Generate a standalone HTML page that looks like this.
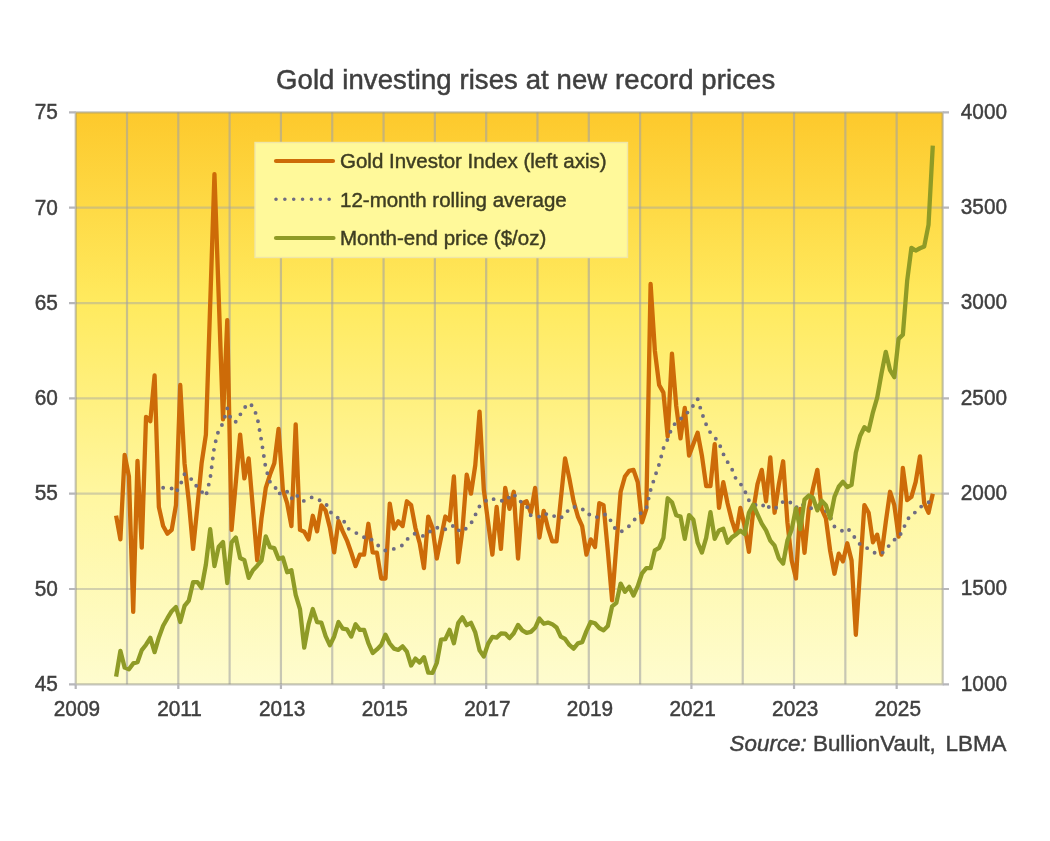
<!DOCTYPE html><html><head><meta charset="utf-8"><style>html,body{margin:0;padding:0;background:#fff;width:1050px;height:841px;overflow:hidden}svg{display:block;filter:blur(0.45px)}text{font-family:"Liberation Sans",sans-serif;fill:#3F3F3F;stroke:#3F3F3F;stroke-width:0.45px}</style></head><body><svg width="1050" height="841" viewBox="0 0 1050 841"><defs><linearGradient id="bg" x1="0" y1="0" x2="0" y2="1"><stop offset="0" stop-color="#FDC92C"/><stop offset="0.33" stop-color="#FFEA5E"/><stop offset="0.68" stop-color="#FFF7A2"/><stop offset="1" stop-color="#FEFCCE"/></linearGradient><filter id="gb" x="-1%" y="-1%" width="102%" height="102%"><feGaussianBlur stdDeviation="0.55"/></filter></defs><rect x="75.7" y="112.4" width="867.0" height="571.9" fill="url(#bg)"/><g filter="url(#gb)"><path d="M75.7 207.72H942.7M75.7 303.03H942.7M75.7 398.35H942.7M75.7 493.67H942.7M75.7 588.98H942.7" stroke="#A8A8A0" stroke-opacity="0.5" stroke-width="2.2" fill="none"/><path d="M127.01 112.4V684.3M178.32 112.4V684.3M229.63 112.4V684.3M280.94 112.4V684.3M332.25 112.4V684.3M383.56 112.4V684.3M434.87 112.4V684.3M486.18 112.4V684.3M537.49 112.4V684.3M588.80 112.4V684.3M640.11 112.4V684.3M691.42 112.4V684.3M742.73 112.4V684.3M794.04 112.4V684.3M845.35 112.4V684.3M896.66 112.4V684.3" stroke="#A4A4A4" stroke-opacity="0.6" stroke-width="2.2" fill="none"/></g><path d="M75.7 112.4V684.3H942.7V112.4Z" stroke="#8C8C80" stroke-opacity="0.5" stroke-width="2.2" fill="none"/><path d="M69 112.40H75.7M942.7 112.40H949M69 207.72H75.7M942.7 207.72H949M69 303.03H75.7M942.7 303.03H949M69 398.35H75.7M942.7 398.35H949M69 493.67H75.7M942.7 493.67H949M69 588.98H75.7M942.7 588.98H949M69 684.30H75.7M942.7 684.30H949M75.70 684.3V689M178.32 684.3V689M280.94 684.3V689M383.56 684.3V689M486.18 684.3V689M588.80 684.3V689M691.42 684.3V689M794.04 684.3V689M896.66 684.3V689" stroke="#B6B6BA" stroke-width="2.2" fill="none"/><text transform="translate(57.80 119.20) scale(1 1.1)" font-size="20.8" text-anchor="end">75</text><text transform="translate(57.80 214.52) scale(1 1.1)" font-size="20.8" text-anchor="end">70</text><text transform="translate(57.80 309.83) scale(1 1.1)" font-size="20.8" text-anchor="end">65</text><text transform="translate(57.80 405.15) scale(1 1.1)" font-size="20.8" text-anchor="end">60</text><text transform="translate(57.80 500.47) scale(1 1.1)" font-size="20.8" text-anchor="end">55</text><text transform="translate(57.80 595.78) scale(1 1.1)" font-size="20.8" text-anchor="end">50</text><text transform="translate(57.80 691.10) scale(1 1.1)" font-size="20.8" text-anchor="end">45</text><text transform="translate(960.80 118.60) scale(1 1.1)" font-size="20.8" text-anchor="start">4000</text><text transform="translate(960.80 213.92) scale(1 1.1)" font-size="20.8" text-anchor="start">3500</text><text transform="translate(960.80 309.23) scale(1 1.1)" font-size="20.8" text-anchor="start">3000</text><text transform="translate(960.80 404.55) scale(1 1.1)" font-size="20.8" text-anchor="start">2500</text><text transform="translate(960.80 499.87) scale(1 1.1)" font-size="20.8" text-anchor="start">2000</text><text transform="translate(960.80 595.18) scale(1 1.1)" font-size="20.8" text-anchor="start">1500</text><text transform="translate(960.80 690.50) scale(1 1.1)" font-size="20.8" text-anchor="start">1000</text><text transform="translate(76.90 715.90) scale(1 1.1)" font-size="20.8" text-anchor="middle">2009</text><text transform="translate(179.52 715.90) scale(1 1.1)" font-size="20.8" text-anchor="middle">2011</text><text transform="translate(282.14 715.90) scale(1 1.1)" font-size="20.8" text-anchor="middle">2013</text><text transform="translate(384.76 715.90) scale(1 1.1)" font-size="20.8" text-anchor="middle">2015</text><text transform="translate(487.38 715.90) scale(1 1.1)" font-size="20.8" text-anchor="middle">2017</text><text transform="translate(590.00 715.90) scale(1 1.1)" font-size="20.8" text-anchor="middle">2019</text><text transform="translate(692.62 715.90) scale(1 1.1)" font-size="20.8" text-anchor="middle">2021</text><text transform="translate(795.24 715.90) scale(1 1.1)" font-size="20.8" text-anchor="middle">2023</text><text transform="translate(897.86 715.90) scale(1 1.1)" font-size="20.8" text-anchor="middle">2025</text><text x="276" y="89" font-size="27.5" letter-spacing="0.1" style="stroke-width:0.5px">Gold investing rises at new record prices</text><text x="1006.5" y="750.5" font-size="22.4" text-anchor="end"><tspan font-style="italic">Source:</tspan> BullionVault,<tspan dx="3.5"> LBMA</tspan></text><path d="M116.11 515.59L120.38 539.42L124.66 454.97L128.93 476.32L133.21 611.86L137.49 460.88L141.76 547.62L146.04 416.84L150.31 421.23L154.59 375.47L158.86 507.01L163.14 526.07L167.42 533.70L171.69 529.89L175.97 505.10L180.24 385.01L184.52 463.17L188.80 501.29L193.07 548.95L197.35 507.01L201.62 463.17L205.90 434.57L210.17 304.94L214.45 174.17L218.73 297.31L223.00 419.32L227.28 320.19L231.55 529.89L235.83 482.23L240.11 434.57L244.38 478.42L248.66 458.40L252.93 508.92L257.21 560.39L261.48 518.45L265.76 487.95L270.04 474.60L274.31 463.17L278.59 428.85L282.86 489.85L287.14 503.20L291.42 526.07L295.69 424.28L299.97 529.89L304.24 531.79L308.52 539.42L312.79 515.78L317.07 531.41L321.35 505.30L325.62 510.63L329.90 527.60L334.17 552.38L338.45 520.93L342.73 531.41L347.00 540.56L351.28 552.76L355.55 566.11L359.83 554.67L364.10 554.67L368.38 523.79L372.66 552.38L376.93 552.76L381.21 578.50L385.48 578.50L389.76 503.58L394.04 528.55L398.31 521.31L402.59 526.07L406.86 501.29L411.14 505.10L415.41 527.98L419.69 543.23L423.97 568.01L428.24 516.54L432.52 527.98L436.79 558.48L441.07 537.51L445.35 516.54L449.62 520.36L453.90 476.51L458.17 562.29L462.45 529.89L466.72 474.60L471.00 493.67L475.28 465.07L479.55 411.69L483.83 489.85L488.10 522.26L492.38 554.67L496.66 507.01L500.93 548.95L505.21 487.95L509.48 508.92L513.76 491.76L518.03 558.48L522.31 503.20L526.59 501.29L530.86 512.73L535.14 487.95L539.41 537.51L543.69 510.82L547.97 527.98L552.24 541.32L556.52 541.32L560.79 499.39L565.07 458.40L569.34 478.42L573.62 501.29L577.90 516.54L582.17 526.07L586.45 554.67L590.72 539.42L595.00 547.04L599.28 503.20L603.55 505.10L607.83 550.86L612.10 600.42L616.38 545.14L620.65 491.76L624.93 476.51L629.21 470.79L633.48 469.84L637.76 482.23L642.03 522.26L646.31 508.92L650.59 283.97L654.86 350.69L659.14 385.01L663.41 392.63L667.69 436.48L671.96 353.55L676.24 405.98L680.52 438.38L684.79 407.88L689.07 455.54L693.34 444.10L697.62 432.66L701.90 455.54L706.17 486.04L710.45 486.04L714.72 444.10L719.00 507.96L723.27 482.23L727.55 503.20L731.83 520.36L736.10 533.70L740.38 507.96L744.65 526.07L748.93 551.81L753.21 510.82L757.48 484.13L761.76 469.84L766.03 501.29L770.31 457.45L774.58 512.73L778.86 484.13L783.14 461.26L787.41 522.26L791.69 560.39L795.96 578.50L800.24 508.92L804.52 552.76L808.79 508.92L813.07 487.95L817.34 469.84L821.62 508.92L825.89 518.45L830.17 550.86L834.45 573.73L838.72 553.72L843.00 561.34L847.27 543.23L851.55 560.39L855.83 634.74L860.10 569.92L864.38 505.10L868.65 512.73L872.93 542.28L877.20 534.65L881.48 554.67L885.76 522.26L890.03 491.76L894.31 505.10L898.58 536.56L902.86 467.93L907.14 500.15L911.41 496.91L915.69 481.85L919.96 456.30L924.24 503.20L928.51 512.73L932.79 493.67" stroke="#CD6B08" stroke-width="4.3" fill="none" stroke-linejoin="round"/><path d="M163.14 487.78L167.42 489.28L171.69 488.48L175.97 492.66L180.24 485.05L184.52 474.05L188.80 478.40L193.07 479.64L197.35 487.93L201.62 491.59L205.90 496.26L210.17 478.68L214.45 445.91L218.73 429.77L223.00 423.44L227.28 408.36L231.55 421.09L235.83 421.72L240.11 414.82L244.38 407.92L248.66 403.12L252.93 406.39L257.21 417.05L261.48 440.88L265.76 468.22L270.04 482.00L274.31 485.36L278.59 494.56L282.86 490.41L287.14 491.65L291.42 498.68L295.69 493.61L299.97 499.92L304.24 500.99L308.52 498.18L312.79 497.10L317.07 499.77L321.35 500.70L325.62 503.05L329.90 511.26L334.17 516.49L338.45 517.95L342.73 518.39L347.00 528.10L351.28 530.00L355.55 532.86L359.83 534.14L364.10 537.36L368.38 536.73L372.66 540.66L376.93 544.17L381.21 548.42L385.48 550.59L389.76 549.14L394.04 548.91L398.31 547.29L402.59 545.08L406.86 539.67L411.14 535.55L415.41 533.32L419.69 534.94L423.97 536.24L428.24 533.22L432.52 529.01L436.79 527.35L441.07 530.17L445.35 529.18L449.62 529.09L453.90 524.97L458.17 530.04L462.45 532.12L466.72 527.66L471.00 523.54L475.28 514.96L479.55 506.21L483.83 503.05L488.10 498.41L492.38 499.46L496.66 498.41L500.93 500.62L505.21 501.46L509.48 496.85L513.76 493.53L518.03 500.74L522.31 502.11L526.59 505.83L530.86 515.59L535.14 515.44L539.41 516.70L543.69 513.05L547.97 514.79L552.24 514.16L556.52 518.60L560.79 517.82L565.07 515.04L569.34 508.36L573.62 506.76L577.90 507.79L582.17 508.75L586.45 514.26L590.72 514.64L595.00 517.88L599.28 516.09L603.55 514.24L607.83 515.04L612.10 523.44L616.38 530.69L620.65 531.79L624.93 529.73L629.21 525.92L633.48 521.23L637.76 515.19L642.03 512.25L646.31 508.54L650.59 490.16L654.86 476.83L659.14 464.27L663.41 448.31L667.69 439.26L671.96 427.75L676.24 421.86L680.52 419.17L684.79 414.00L689.07 411.77L693.34 405.27L697.62 398.90L701.90 413.20L706.17 424.49L710.45 432.89L714.72 437.20L719.00 443.15L723.27 453.88L727.55 461.96L731.83 468.81L736.10 479.29L740.38 483.66L744.65 490.48L748.93 500.42L753.21 505.03L757.48 504.86L761.76 503.52L766.03 509.62L770.31 505.64L774.58 508.31L778.86 506.59L783.14 501.52L787.41 500.42L791.69 503.52L795.96 507.89L800.24 503.06L804.52 506.04L808.79 507.56L813.07 508.90L817.34 506.15L821.62 510.31L825.89 510.98L830.17 516.71L834.45 526.46L838.72 529.72L843.00 531.16L847.27 528.21L851.55 532.52L855.83 539.34L860.10 544.43L864.38 545.86L868.65 549.43L872.93 552.21L877.20 553.56L881.48 553.87L885.76 549.58L890.03 544.43L894.31 539.74L898.58 537.89L902.86 529.75L907.14 520.26L911.41 514.18L915.69 512.23L919.96 507.53L924.24 504.28L928.51 502.45L932.79 497.36" stroke="#6F6C82" stroke-width="3.9" fill="none" stroke-dasharray="0 8.8" stroke-linecap="round"/><path d="M116.11 676.67L120.38 650.80L124.66 667.62L128.93 669.34L133.21 663.43L137.49 662.28L141.76 650.13L146.04 644.74L150.31 637.79L154.59 652.08L158.86 637.40L163.14 625.78L167.42 618.20L171.69 611.19L175.97 607.00L180.24 621.96L184.52 605.95L188.80 600.61L193.07 582.22L197.35 582.03L201.62 587.93L205.90 564.49L210.17 529.22L214.45 566.11L218.73 546.66L223.00 542.09L227.28 583.07L231.55 542.47L235.83 537.51L240.11 558.01L244.38 560.15L248.66 577.83L252.93 570.21L257.21 565.73L261.48 560.67L265.76 536.37L270.04 547.23L274.31 548.09L278.59 558.96L282.86 557.58L287.14 572.21L291.42 570.25L295.69 594.89L299.97 609.10L304.24 647.70L308.52 624.35L312.79 609.05L317.07 622.06L321.35 622.53L325.62 636.07L329.90 645.32L334.17 636.45L338.45 622.06L342.73 628.68L347.00 629.30L351.28 636.55L355.55 624.25L359.83 629.92L364.10 629.83L368.38 643.03L372.66 652.99L376.93 649.46L381.21 645.03L385.48 634.69L389.76 643.50L394.04 648.65L398.31 649.94L402.59 646.36L406.86 651.70L411.14 665.54L415.41 658.56L419.69 662.57L423.97 657.16L428.24 672.65L432.52 672.80L436.79 662.99L441.07 639.52L445.35 639.12L449.62 629.85L453.90 643.22L458.17 623.15L462.45 617.39L466.72 625.18L471.00 622.82L475.28 632.45L479.55 650.35L483.83 656.49L488.10 643.73L492.38 636.93L496.66 637.62L500.93 633.51L505.21 633.55L509.48 638.12L513.76 633.30L518.03 624.87L522.31 630.33L526.59 632.80L530.86 631.88L535.14 627.78L539.41 618.52L543.69 623.71L547.97 622.56L552.24 624.16L556.52 627.44L560.79 636.56L565.07 638.95L569.34 644.91L573.62 648.60L577.90 643.31L582.17 642.15L586.45 631.11L590.72 622.04L595.00 623.30L599.28 627.99L603.55 630.28L607.83 626.04L612.10 606.33L616.38 602.79L620.65 583.57L624.93 591.79L629.21 586.90L633.48 595.54L637.76 586.17L642.03 573.30L646.31 568.04L650.59 568.21L654.86 550.33L659.14 547.83L663.41 537.87L667.69 498.27L671.96 502.23L676.24 515.23L680.52 516.62L684.79 538.94L689.07 515.09L693.34 519.67L697.62 542.60L701.90 552.56L706.17 537.95L710.45 512.10L714.72 538.82L719.00 530.40L723.27 528.79L727.55 542.70L731.83 537.39L736.10 534.49L740.38 530.68L744.65 534.05L748.93 512.71L753.21 504.69L757.48 514.42L761.76 523.71L766.03 530.41L770.31 540.59L774.58 545.74L778.86 558.37L783.14 563.52L787.41 540.63L791.69 529.44L795.96 508.41L800.24 529.20L804.52 499.58L808.79 495.56L813.07 497.98L817.34 510.39L821.62 500.81L825.89 505.24L830.17 518.44L834.45 496.81L838.72 486.75L843.00 481.77L847.27 487.07L851.55 484.93L855.83 452.80L860.10 435.95L864.38 427.21L868.65 430.59L872.93 412.33L877.20 397.70L881.48 373.55L885.76 351.85L890.03 370.16L894.31 377.25L898.58 338.85L902.86 334.71L907.14 281.09L911.41 247.81L915.69 250.55L919.96 248.24L924.24 246.45L928.51 224.87L932.79 145.70" stroke="#8F9B26" stroke-width="4.3" fill="none" stroke-linejoin="round"/><rect x="255" y="142.5" width="372.5" height="115" fill="#FFF99A" stroke="#EFE6A8" stroke-width="1.4"/><path d="M276 161H333" stroke="#CD6B08" stroke-width="4.2" stroke-linecap="round"/><path d="M276 199.3H329.2" stroke="#6F6C82" stroke-width="3.6" stroke-dasharray="0 8.86" stroke-linecap="round"/><path d="M276 238H333.5" stroke="#8F9B26" stroke-width="4.2" stroke-linecap="round"/><text x="340" y="167.5" font-size="20.5" style="fill:#3E3D22;stroke:#3E3D22">Gold Investor Index (left axis)</text><text x="340" y="206.5" font-size="20.5" style="fill:#3E3D22;stroke:#3E3D22">12-month rolling average</text><text x="340" y="245" font-size="20.5" style="fill:#3E3D22;stroke:#3E3D22">Month-end price ($/oz)</text></svg></body></html>
